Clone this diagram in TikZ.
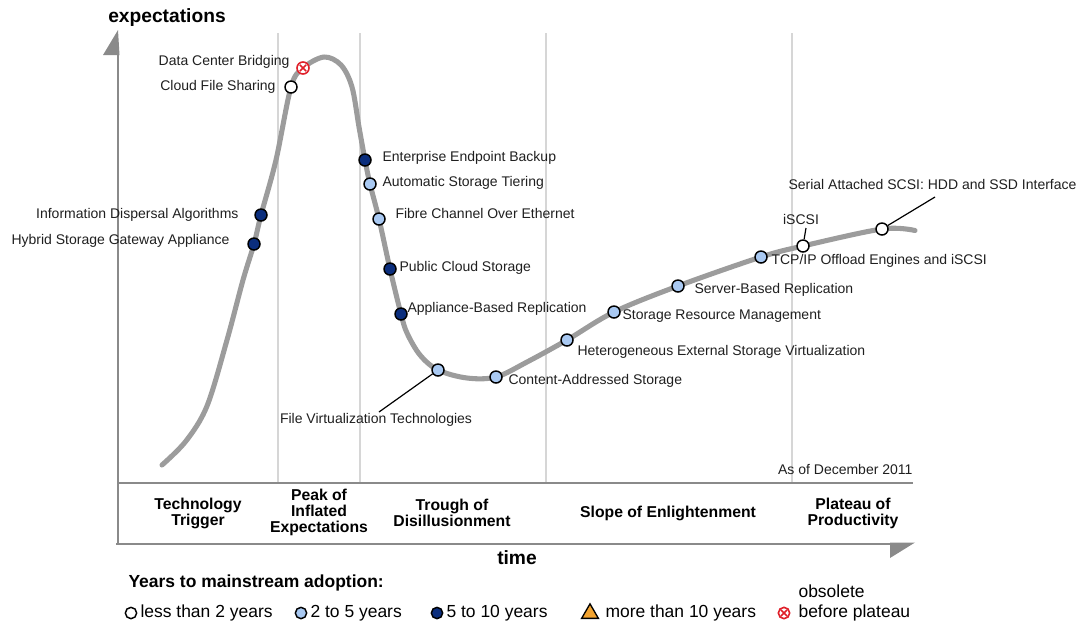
\documentclass[tikz,border=0pt]{standalone}
\usepackage{fontspec}
\setmainfont{Liberation Sans}
\usetikzlibrary{shapes.geometric}
\definecolor{curveGray}{HTML}{9C9C9C}
\definecolor{axisGray}{HTML}{8A8A8A}
\definecolor{gridGray}{HTML}{D6D6D6}
\definecolor{midBlue}{HTML}{A9C9F2}
\definecolor{farBlue}{HTML}{0B2E7D}
\definecolor{obsoleteRed}{HTML}{E0202A}
\definecolor{laterOrange}{HTML}{F2A330}

\begin{document}
\begin{tikzpicture}
[-,thick,x=0.75pt,y=-0.75pt,%
  curveDecorate/.style={line width=3.8pt,draw=curveGray,line cap=round,line join=round},%
  gridDecorate/.style={line width=1.1pt,draw=gridGray},%
  axisDecorate/.style={line width=1.7pt,draw=axisGray},%
  leaderDecorate/.style={-,line width=0.9pt,draw=black},%
  dotDecorate/.style={shape=circle,inner sep=0pt,minimum size=9pt,draw=black,line width=1.1pt},%
  dotNear/.style={dotDecorate,fill=white},%
  dotMid/.style={dotDecorate,fill=midBlue},%
  dotFar/.style={dotDecorate,fill=farBlue},%
  dotGone/.style={dotDecorate,draw=obsoleteRed,fill=white,line width=1.2pt,
    path picture={\draw[obsoleteRed,line width=1.1pt]
      ([shift={(-2.4pt,-2.4pt)}]path picture bounding box.center) -- ([shift={(2.4pt,2.4pt)}]path picture bounding box.center)
      ([shift={(-2.4pt,2.4pt)}]path picture bounding box.center) -- ([shift={(2.4pt,-2.4pt)}]path picture bounding box.center);}},%
  labelDecorate/.style={font=\fontsize{10.5}{12}\selectfont,text=black!88,inner sep=0pt,text height=7.5pt,text depth=2pt},%
  phaseDecorate/.style={font=\fontsize{11.8}{12}\selectfont\bfseries,align=center,inner sep=0pt},%
  axisLabel/.style={font=\fontsize{14.4}{16}\selectfont\bfseries,inner sep=0pt},%
  legendDecorate/.style={font=\fontsize{13.1}{15}\selectfont,inner sep=0pt,text height=9.3pt,text depth=2.6pt,anchor=west}]

\useasboundingbox (0,0) rectangle (1084,626);

%% phase grid and axes
\foreach \x in {278,360,546,792}
  \draw[gridDecorate] (\x,33) -- (\x,483);
\draw[axisDecorate] (118,544) -- (118,54);
\fill[axisGray] (118,30) -- (103,55) -- (119.5,55) -- cycle;
\draw[axisDecorate] (118,483) -- (913,483);
\draw[axisDecorate] (116,544) -- (891,544);
\fill[axisGray] (890,542.5) -- (915,542.5) -- (890,558) -- cycle;

%% hype curve
\draw[curveDecorate] plot[smooth,tension=0.55] coordinates {
  (162,465) (186,441) (207,406) (227,340) (243,280) (254,244) (261,215)
  (276,160) (291,87) (303,68) (324,57) (341,65) (352,87) (359,127)
  (365,160) (370,184) (379,219) (390,269) (401,314) (407,333) (420,355)
  (438,370) (467,378) (496,377) (527,362) (567,340) (614,312) (678,286)
  (761,257) (803,246) (882,229) (915,230.5)};

%% technologies on the curve
\foreach \nodename/\x/\y/\kind in {
  hsga/254/244/dotFar, ida/261/215/dotFar, cfs/291/87/dotNear, dcb/303/68/dotGone,
  eeb/365/160/dotFar, ast/370/184/dotMid, fcoe/379/219/dotMid, pcs/390/269/dotFar,
  abr/401/314/dotFar, fvt/438/370/dotMid, cas/496/377/dotMid, hesv/567/340/dotMid,
  srm/614/312/dotMid, sbr/678/286/dotMid, toe/761/257/dotMid, iscsi/803/246/dotNear,
  sas/882/229/dotNear}
{
  \node[\kind] (\nodename) at (\x,\y) {};
}

%% technology labels
\foreach \nodename/\x/\y/\side/\text in {
  dcbText/290/62/east/Data Center Bridging, cfsText/276/87/east/Cloud File Sharing,
  idaText/239/215/east/Information Dispersal Algorithms,
  hsgaText/230/241/east/Hybrid Storage Gateway Appliance,
  eebText/382/158/west/Enterprise Endpoint Backup, astText/382/183/west/Automatic Storage Tiering,
  fcoeText/395/215/west/Fibre Channel Over Ethernet, pcsText/399/268/west/Public Cloud Storage,
  abrText/407/309/west/Appliance-Based Replication, fvtText/376/420/center/File Virtualization Technologies,
  casText/508/381/west/Content-Addressed Storage,
  hesvText/577/352/west/Heterogeneous External Storage Virtualization,
  srmText/622/316/west/Storage Resource Management, sbrText/694/290/west/Server-Based Replication,
  iscsiText/801/221/center/iSCSI, sasText/788/186/west/Serial Attached SCSI: HDD and SSD Interface,
  dateText/913/471/east/As of December 2011}
{
  \node[labelDecorate,anchor=\side] (\nodename) at (\x,\y) {\text};
}
\node[labelDecorate,anchor=west] (toeText) at (771,261) {TCP/IP Offload Engines and iSCSI};

%% leader lines
\coordinate (fvtEnd) at (379,412);
\coordinate (iscsiEnd) at (806,228);
\coordinate (sasEnd) at (935,197);
\path
(fvt) edge[leaderDecorate] (fvtEnd)
(iscsi) edge[leaderDecorate] (iscsiEnd)
(sas) edge[leaderDecorate] (sasEnd);

%% phases and axis labels
\node[phaseDecorate] (techPhase) at (198,513) {Technology\\Trigger};
\node[phaseDecorate] (peakPhase) at (319,512) {Peak of\\Inflated\\Expectations};
\node[phaseDecorate] (troughPhase) at (452,513) {Trough of\\Disillusionment};
\node[phaseDecorate] (slopePhase) at (668,513) {Slope of Enlightenment};
\node[phaseDecorate] (plateauPhase) at (853,513) {Plateau of\\Productivity};
\node[axisLabel] (yLabel) at (167,18) {expectations};
\node[axisLabel] (xLabel) at (517,558) {time};

%% legend
\node[legendDecorate,font=\fontsize{13.1}{15}\selectfont\bfseries] (keyTitle) at (128,583) {Years to mainstream adoption:};
\node[dotNear,minimum size=8.5pt] (keyNear) at (131,613) {};
\node[legendDecorate] (keyNearText) at (140,613) {less than 2 years};
\node[dotMid,minimum size=8.5pt] (keyMid) at (301,613) {};
\node[legendDecorate] (keyMidText) at (310,613) {2 to 5 years};
\node[dotFar,minimum size=8.5pt] (keyFar) at (437,613) {};
\node[legendDecorate] (keyFarText) at (446,613) {5 to 10 years};
\node[shape=regular polygon,regular polygon sides=3,inner sep=0pt,minimum size=14.5pt,draw=black,line width=1pt,fill=laterOrange] (keyLater) at (590,613.5) {};
\node[legendDecorate] (keyLaterText) at (605,613) {more than 10 years};
\node[dotGone,minimum size=8.5pt] (keyGone) at (784,613) {};
\node[legendDecorate] (keyGoneText) at (798,613) {before plateau};
\node[legendDecorate] (keyGoneTop) at (798,593) {obsolete};
\end{tikzpicture}
\end{document}
